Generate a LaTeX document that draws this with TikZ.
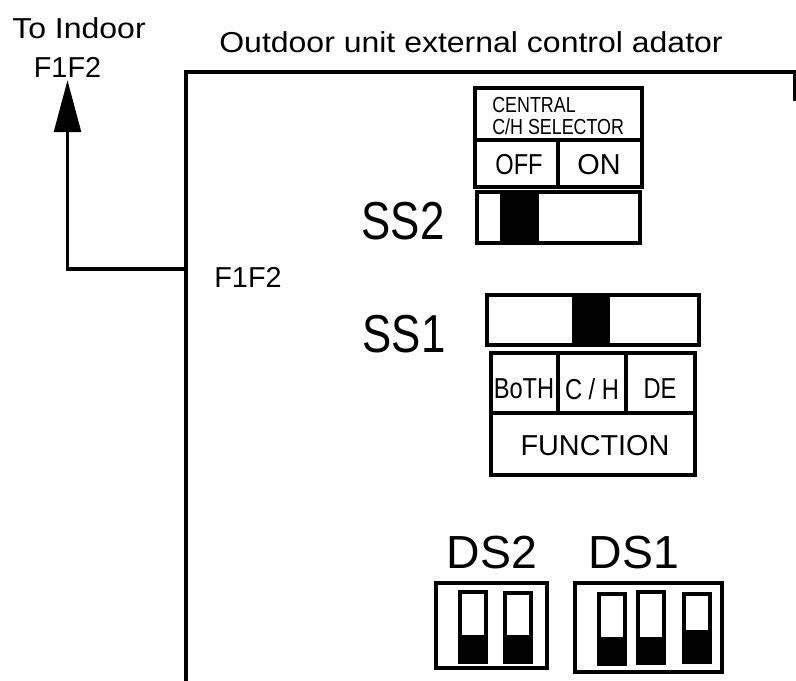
\documentclass[tikz,border=0pt]{standalone}
\usepackage{xcolor}
\usepackage{fontspec}
\setmainfont{Liberation Sans}
\newfontfamily\narrowfont[FakeStretch=0.82]{Liberation Sans}
\newfontfamily\widefont[FakeStretch=1.11]{Liberation Sans}
\usetikzlibrary{arrows.meta}

\begin{document}
\begin{tikzpicture}[
  x=0.025cm, y=-0.025cm,
  ln/.style={draw=black, line width=2.6pt},
  lbl/.style={inner sep=0pt, text=black},
  tinytxt/.style={lbl, font=\narrowfont\fontsize{15.5}{15.5}\selectfont},
  captxt/.style={lbl, font=\fontsize{20.5}{20.5}\selectfont},
  slimtxt/.style={lbl, font=\narrowfont\fontsize{20.5}{20.5}\selectfont},
  widetxt/.style={lbl, font=\widefont\fontsize{20.5}{20.5}\selectfont},
  bigtxt/.style={lbl, font=\fontsize{33}{33}\selectfont},
  talltxt/.style={lbl, font=\narrowfont\fontsize{38}{38}\selectfont},
  toggle/.style={draw=black, line width=2.6pt, fill=white},
  knob/.style={fill=black}
]
  \useasboundingbox (0,0) rectangle (796,681);

  % --- Labels ---
  \node[widetxt] (indoor) at (79,28) {To Indoor};
  \node[captxt] (indf)   at (67.5,67) {F1F2};
  \node[widetxt] (title)  at (471,42) {Outdoor unit external control adator};
  \node[captxt] (inf)    at (248,277) {F1F2};

  % --- Unit outline ---
  \coordinate (cnrA) at (186,72);
  \coordinate (cnrB) at (186,681);
  \coordinate (cnrC) at (795,72);
  \coordinate (cnrD) at (795,101);
  \coordinate (tap)  at (186,269);
  \draw[ln] (cnrD) -- (cnrC) -- (cnrA) -- (cnrB);

  % F1F2 line
  \draw[ln, -{Triangle[length=37pt,width=19pt]}, shorten >=2pt]
    (tap) -| (indf.south);

  % --- SS2 ---
  \node[talltxt] (ssb) at (403,221) {SS2};
  \draw[ln] (475,88) rectangle (642,187);
  \draw[ln] (475,140) -- (642,140);
  \draw[ln] (558,140) -- (558,187);
  \node[tinytxt, align=left, anchor=west] (central) at (492,116)
    {CENTRAL\\C/H SELECTOR};
  \node[slimtxt] (off) at (519,165) {OFF};
  \node[captxt] (on)  at (599,165) {ON};
  \draw[ln] (477,192) rectangle (640,243);
  \fill[knob] (500,192) rectangle (539,243);

  % --- SS1 ---
  \node[talltxt] (ssa) at (404,334) {SS1};
  \draw[ln] (487,295) rectangle (699,345);
  \fill[knob] (572,295) rectangle (610,345);
  \draw[ln] (491,353) rectangle (695,475);
  \draw[ln] (491,413) -- (695,413);
  \draw[ln] (558,353) -- (558,413);
  \draw[ln] (626,353) -- (626,413);
  \node[slimtxt] (both) at (524,389) {BoTH};
  \node[slimtxt] (ch)   at (592,389) {C / H};
  \node[slimtxt] (de)   at (660,389) {DE};
  \node[captxt] (func) at (595,446) {FUNCTION};

  % --- DS2 ---
  \node[bigtxt] (dsb) at (492,553) {DS2};
  \draw[ln] (436,583) rectangle (547,668);
  \foreach \xa/\xb/\ya/\yb in {460/486/592/662, 505/531/593/662}{
    \draw[toggle] (\xa,\ya) rectangle (\xb,\yb);
    \fill[knob] (\xa,635) rectangle (\xb,\yb);
  }

  % --- DS1 ---
  \node[bigtxt] (dsa) at (634,553) {DS1};
  \draw[ln] (575,583) rectangle (722,672);
  \foreach \xa/\xb/\ya/\yb/\ym in {599/625/594/664/637, 638/664/592/663/637, 684/710/594/662/630}{
    \draw[toggle] (\xa,\ya) rectangle (\xb,\yb);
    \fill[knob] (\xa,\ym) rectangle (\xb,\yb);
  }
\end{tikzpicture}
\end{document}
